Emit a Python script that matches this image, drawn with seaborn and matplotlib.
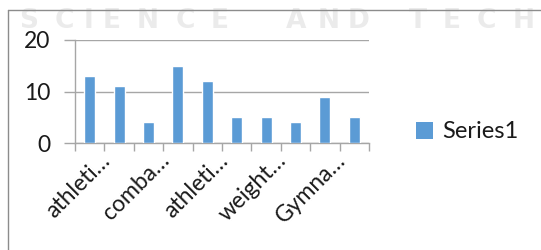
import matplotlib
matplotlib.use("Agg")
import matplotlib.pyplot as plt
import matplotlib.transforms as mtransforms
from matplotlib.patches import Patch
from matplotlib.lines import Line2D
import seaborn as sns
import pandas as pd

# ---- data ----
categories = ["athleti… (1)", "cat 2", "comba… (3)", "cat 4", "athleti… (5)",
              "cat 6", "weight… (7)", "cat 8", "Gymna… (9)", "cat 10"]
values = [13, 11, 4, 15, 12, 5, 5, 4, 9, 5]
tick_labels = ["athleti…", "", "comba…", "", "athleti…", "", "weight…", "", "Gymna…", ""]
y_ticks = [0, 10, 20]
series_name = "Series1"
watermark_text = "SCIENCE AND TECH"

df = pd.DataFrame({"category": categories, "value": values})

sns.set_theme(style="white")
plt.rcParams["font.family"] = ["Lato", "DejaVu Sans"]

W, H = 541, 250
fig = plt.figure(figsize=(W / 100, H / 100), dpi=100)

def fx(px):
    return px / W

def fy(py):
    return 1 - py / H

# watermark (faint, letter-spaced)
wm_letter_x = [29, 64, 88, 112, 148, 185, 220, None, 296, 329, 359, None, 418, 452, 486, 524]
for ch, xc in zip(watermark_text, wm_letter_x):
    if xc is None:
        continue
    fig.text(fx(xc), fy(21), ch, ha="center", va="center",
             fontsize=19, fontweight="bold", color="#ebebeb",
             family="DejaVu Sans", zorder=0)

# outer chart frame (partially visible)
fig.add_artist(Line2D([fx(8), fx(8)], [fy(10), fy(260)], color="#8c8c8c", lw=1.0))
fig.add_artist(Line2D([fx(8), fx(560)], [fy(10), fy(10)], color="#8c8c8c", lw=1.0))

ax = fig.add_axes([fx(75), fy(143), fx(369) - fx(75), fy(40) - fy(143)])
ax.patch.set_alpha(0)

sns.barplot(data=df, x="category", y="value", color="#5B9BD5", width=0.38,
            saturation=1, ax=ax, zorder=3)

ax.set_xlim(-0.5, len(categories) - 0.5)
ax.set_ylim(0, 20)
ax.set_yticks(y_ticks)
ax.set_yticklabels([str(t) for t in y_ticks], fontsize=16.5, color="#1a1a1a")
ax.tick_params(axis="y", length=8, width=1, color="#a6a6a6", pad=10, left=True)
ax.yaxis.grid(True, color="#a6a6a6", lw=1, zorder=0)
ax.set_axisbelow(True)

# x ticks at category boundaries, labels at category centres
ax.set_xticks([i - 0.5 for i in range(len(categories) + 1)], minor=False)
ax.set_xticklabels([])
ax.tick_params(axis="x", length=6, width=1, color="#a6a6a6", bottom=True)
ax.set_xticks(range(len(categories)), minor=True)
ax.set_xticklabels(tick_labels, minor=True, rotation=45, ha="right",
                   rotation_mode="anchor", va="center", fontsize=16.5, color="#1a1a1a")
ax.tick_params(axis="x", which="minor", length=0, pad=10)
offset = mtransforms.ScaledTranslation(17 / 100, 0, fig.dpi_scale_trans)
for lab in ax.get_xticklabels(minor=True):
    lab.set_transform(lab.get_transform() + offset)

ax.set_xlabel("")
ax.set_ylabel("")
for s in ["top", "right"]:
    ax.spines[s].set_visible(False)
ax.spines["left"].set_color("#a6a6a6")
ax.spines["bottom"].set_color("#a6a6a6")
ax.spines["left"].set_linewidth(1)
ax.spines["bottom"].set_linewidth(1)

leg = fig.legend(handles=[Patch(facecolor="#5B9BD5", edgecolor="none", label=series_name)],
                 loc="center left", bbox_to_anchor=(fx(416), fy(132)), frameon=False,
                 fontsize=17, handlelength=0.7, handleheight=0.7, handletextpad=0.4,
                 borderaxespad=0, borderpad=0)
for t in leg.get_texts():
    t.set_color("#1a1a1a")

fig.savefig("out.png", dpi=100)
